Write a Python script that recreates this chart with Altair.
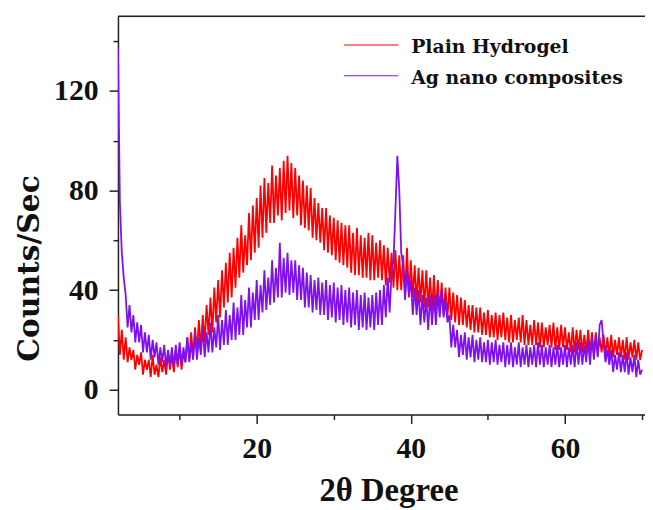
import altair as alt
import pandas as pd

# ---- data (2θ grid: start 2.0°, step 0.25°) ----
x_start = 2.0
x_step = 0.25

plain_hydrogel = [
    30, 14, 24, 12,  21, 11, 17, 12,  16, 8, 14, 10,  15, 6, 12, 8,
    12, 5, 14, 6,  10, 5, 13, 7,  12, 6, 15, 8,  14, 7, 16, 9,
    17, 8, 15, 11,  21, 12, 23, 13,  25, 15, 28, 16,  30, 19, 34, 22,
    37, 23, 41, 27,  44, 29, 48, 33,  51, 35, 55, 37,  57, 41, 61, 45,
    66, 47, 62, 50,  71, 52, 74, 55,  77, 57, 82, 61,  85, 63, 83, 67,
    90, 67, 86, 70,  89, 68, 92, 71,  94, 72, 91, 69,  89, 70, 86, 66,
    84, 65, 82, 64,  81, 61, 77, 60,  75, 59, 73, 56,  73, 55, 70, 54,
    69, 52, 68, 51,  67, 50, 66, 49,  66, 47, 63, 46,  65, 46, 62, 45,
    61, 45, 63, 44,  62, 44, 59, 45,  60, 44, 58, 42,  57, 43, 55, 41,
    56, 40, 54, 40,  54, 38, 57, 37,  52, 37, 50, 35,  49, 35, 48, 33,
    48, 33, 45, 32,  46, 31, 44, 31,  43, 30, 41, 29,  41, 28, 39, 27,
    38, 26, 37, 26,  36, 25, 34, 24,  34, 23, 33, 23,  33, 22, 31, 22,
    32, 21, 30, 21,  31, 20, 30, 21,  31, 20, 29, 19,  30, 19, 28, 20,
    29, 19, 30, 18,  28, 18, 26, 18,  28, 18, 27, 17,  27, 17, 25, 18,
    26, 17, 27, 16,  25, 16, 26, 17,  25, 16, 23, 15,  25, 15, 24, 16,
    24, 15, 22, 15,  24, 15, 23, 14,  23, 14, 21, 15,  22, 14, 21, 13,
    22, 13, 20, 14,  21, 13, 20, 12,  21, 12, 19, 13,  20, 12, 19, 12,
    16,
]

ag_nano = [
    137, 75, 55, 45,  38, 25, 34, 23,  30, 19, 27, 19,  26, 15, 23, 15,
    22, 12, 20, 13,  19, 10, 17, 11,  18, 9, 16, 10,  17, 9, 18, 10,
    19, 10, 17, 11,  21, 11, 19, 12,  23, 12, 21, 14,  25, 13, 23, 15,
    27, 15, 25, 17,  30, 16, 28, 18,  32, 18, 30, 20,  35, 20, 33, 22,
    38, 22, 36, 25,  41, 25, 39, 28,  44, 28, 42, 31,  48, 32, 45, 34,
    52, 35, 49, 37,  59, 37, 53, 39,  55, 38, 52, 39,  52, 36, 50, 36,
    49, 33, 47, 33,  46, 31, 44, 32,  45, 30, 43, 30,  44, 28, 42, 29,
    43, 27, 41, 28,  42, 26, 40, 27,  41, 25, 39, 26,  40, 24, 38, 25,
    39, 24, 37, 25,  38, 24, 39, 26,  40, 26, 42, 29,  45, 31, 47, 52,
    72, 94, 80, 55,  50, 36, 48, 38,  44, 30, 41, 30,  40, 26, 38, 27,
    37, 24, 38, 26,  38, 26, 39, 29,  40, 29, 36, 27,  30, 17, 26, 17,
    24, 13, 22, 14,  23, 12, 21, 13,  22, 11, 20, 12,  21, 11, 19, 11,
    20, 10, 19, 11,  20, 10, 18, 11,  19, 9, 18, 10,  19, 9, 17, 10,
    19, 9, 17, 10,  18, 9, 17, 10,  18, 9, 19, 10,  18, 9, 17, 10,
    18, 9, 17, 10,  18, 9, 17, 10,  18, 9, 17, 10,  18, 9, 19, 10,
    19, 10, 18, 11,  20, 10, 21, 12,  22, 13, 26, 28,  19, 11, 16, 10,
    16, 7, 14, 8,  15, 7, 14, 7,  15, 6, 13, 7,  14, 5, 12, 6,
    8,
]

series_names = ["Plain Hydrogel", "Ag nano composites"]
series_colors = ["#ff0000", "#7f10f0"]
x_ticks = [10, 20, 30, 40, 50, 60, 70]
y_ticks = [0, 20, 40, 60, 80, 100, 120, 140]

# ---- tables ----
def make_df(vals, name):
    return pd.DataFrame({
        "twotheta": [x_start + x_step * i for i in range(len(vals))],
        "counts": vals,
        "series": name,
    })

df_red = make_df(plain_hydrogel, series_names[0])
df_pur = make_df(ag_nano, series_names[1])

W, H = 532, 402
x_scale = alt.Scale(domain=[2, 70.38], nice=False, zero=False)
y_scale = alt.Scale(domain=[-10, 150], nice=False, zero=False)

x_axis = alt.Axis(
    values=x_ticks,
    labelExpr="datum.value % 20 === 0 ? datum.label : ''",
    tickSize={"condition": {"test": "datum.value % 20 === 0", "value": 9}, "value": 5},
    title="2θ Degree",
    titleFont="Liberation Serif", titleFontWeight="bold", titleFontSize=33,
    titleColor="#111", titleX=273, titleY=87, titleBaseline="alphabetic",
    titleAnchor="start", titleAlign="center",
    labelFont="Liberation Serif", labelFontWeight="bold", labelFontSize=30,
    labelColor="#111", labelBaseline="alphabetic", labelPadding=34,
    labelFlush=False, labelOverlap=False,
    domainColor="#222", domainWidth=1.5, tickColor="#222", tickWidth=1.5,
    grid=False,
)
y_axis = alt.Axis(
    values=y_ticks,
    labelExpr="datum.value % 40 === 0 ? datum.label : ''",
    tickSize={"condition": {"test": "datum.value % 40 === 0", "value": 9}, "value": 5},
    title="Counts/Sec",
    titleFont="DejaVu Serif", titleFontWeight="bold", titleFontSize=30,
    titleColor="#111", titleX=-89, titleY=254, titleAngle=-90,
    titleAlign="center", titleBaseline="middle", titleAnchor="start",
    labelFont="Liberation Serif", labelFontWeight="bold", labelFontSize=30,
    labelColor="#111", labelBaseline="middle", labelPadding=11,
    labelFlush=False, labelOverlap=False,
    domainColor="#222", domainWidth=1.5, tickColor="#222", tickWidth=1.5,
    grid=False,
)

def line_layer(df, color):
    return alt.Chart(df).mark_line(color=color, strokeWidth=1.8, clip=True).encode(
        x=alt.X("twotheta:Q", scale=x_scale, axis=x_axis),
        y=alt.Y("counts:Q", scale=y_scale, axis=y_axis),
    )

red_line = line_layer(df_red, series_colors[0])
pur_line = line_layer(df_pur, series_colors[1])

dummy = pd.DataFrame({"k": [0]})
top_frame = alt.Chart(dummy).mark_rule(color="#222", strokeWidth=1.5).encode(
    x=alt.value(0), x2=alt.value(W), y=alt.value(0)
)

legend_layers = []
for i, (name, col) in enumerate(zip(series_names, series_colors)):
    ly = 29 + 31 * i
    legend_layers.append(
        alt.Chart(dummy).mark_rule(color=col, strokeWidth=1.2).encode(
            x=alt.value(228), x2=alt.value(283), y=alt.value(ly)
        )
    )
    legend_layers.append(
        alt.Chart(pd.DataFrame({"label": [name]})).mark_text(
            align="left", baseline="alphabetic", font="DejaVu Serif",
            fontWeight="bold", fontSize=19, color="#111",
        ).encode(x=alt.value(296), y=alt.value(ly + 8), text="label:N")
    )

chart = alt.layer(red_line, pur_line, top_frame, *legend_layers).properties(
    width=W, height=H,
    padding={"left": 111, "top": 6, "right": 0, "bottom": 96},
    autosize=alt.AutoSizeParams(type="none"),
).configure_view(stroke=None).configure(background="white")

chart.save("out.html", embed_options={"renderer": "svg", "actions": False})
